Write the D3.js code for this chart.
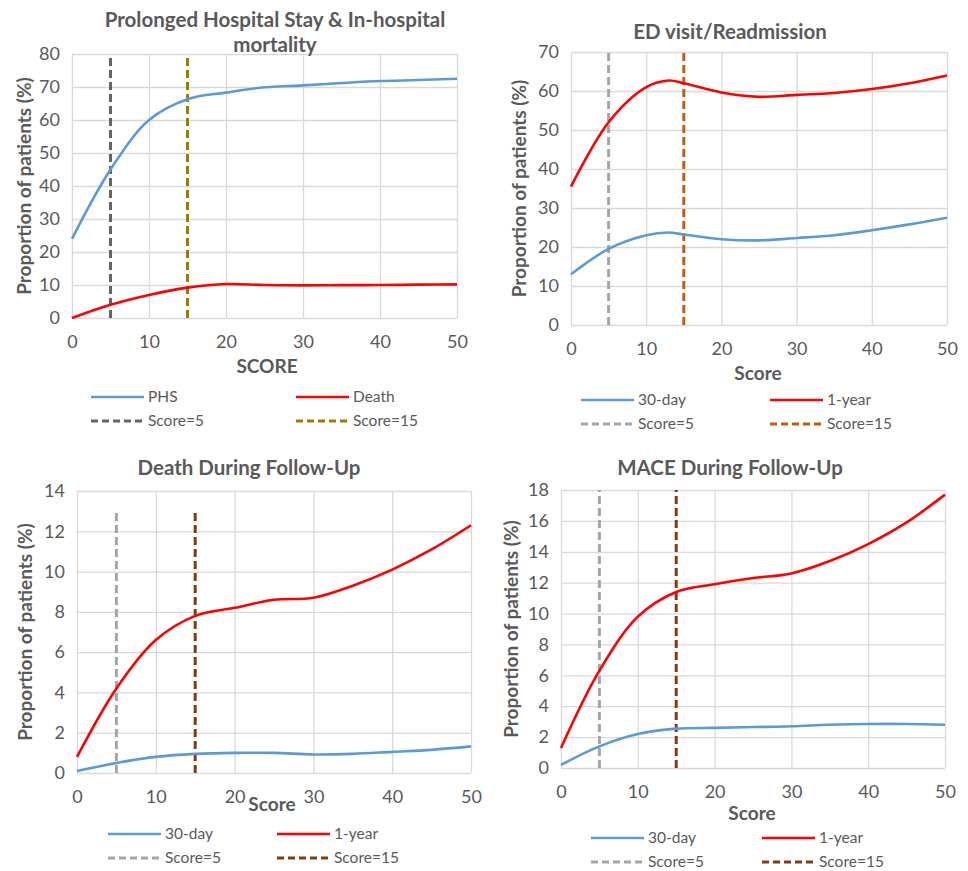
<!DOCTYPE html>
<html>
<head>
<meta charset="utf-8">
<script src="https://cdn.jsdelivr.net/npm/d3@7"></script>
<style>
  body { margin: 0; background: white; }
  text { font-family: Lato, "Open Sans", sans-serif; }
</style>
</head>
<body>
<div id="chart"></div>
<script>
// Data (score -> proportion %)
var scoreTicks = [0, 10, 20, 30, 40, 50]
var scores   = [0, 5, 10, 15, 20, 25, 30, 35, 40, 45, 50]
var edScores = [0, 5, 10, 13, 15, 20, 25, 30, 35, 40, 45, 50]

var phsValue    = [24, 45, 60, 66.3, 68.3, 69.9, 70.5, 71.2, 71.8, 72.1, 72.5]
var deathValue  = [0, 4, 7, 9.2, 10.3, 10, 9.9, 9.95, 10, 10.1, 10.2]

var ed30Value   = [13, 19.5, 23, 23.7, 23.2, 22, 21.7, 22.3, 23, 24.3, 25.8, 27.5]
var ed1yValue   = [35.5, 52, 61, 62.7, 62, 59.6, 58.5, 59, 59.5, 60.5, 62, 64]

var dfu30Value  = [0.1, 0.5, 0.8, 0.95, 1.0, 1.0, 0.92, 0.95, 1.05, 1.15, 1.32]
var dfu1yValue  = [0.8, 4.2, 6.6, 7.8, 8.2, 8.6, 8.7, 9.3, 10.1, 11.1, 12.3]

var mace30Value = [0.2, 1.4, 2.2, 2.55, 2.6, 2.65, 2.7, 2.8, 2.85, 2.85, 2.8]
var mace1yValue = [1.3, 6.3, 9.8, 11.4, 11.9, 12.3, 12.6, 13.4, 14.5, 15.9, 17.7]

var cutoffs = [5, 15]

// Panel layout (pixel boxes of each plot area)
var panels = [
  {title: ["Prolonged Hospital Stay & In-hospital", "mortality"], titleX: 275, titleY: 27,
   left: 72, right: 457, top: 54, bottom: 318, yMax: 80, yStep: 10, dashTop: 80,
   xLabel: "SCORE", xLabelX: 267, xLabelY: 373, yLabelX: 31,
   series: [
     {name: "PHS", x: scores, y: phsValue, color: "#5B9BD5"},
     {name: "Death", x: scores, y: deathValue, color: "#FF0000"}],
   dashColors: ["#646464", "#A07A00"],
   legendCols: [91, 296], legendY: 397},
  {title: ["ED visit/Readmission"], titleX: 730, titleY: 39,
   left: 571, right: 947, top: 52, bottom: 325, yMax: 70, yStep: 10, dashTop: 70,
   xLabel: "Score", xLabelX: 758, xLabelY: 380, yLabelX: 526,
   series: [
     {name: "30-day", x: edScores, y: ed30Value, color: "#5B9BD5"},
     {name: "1-year", x: edScores, y: ed1yValue, color: "#FF0000"}],
   dashColors: ["#A5A5A5", "#C55A11"],
   legendCols: [581, 770], legendY: 400},
  {title: ["Death During Follow-Up"], titleX: 249, titleY: 475,
   left: 77, right: 471, top: 491, bottom: 773, yMax: 14, yStep: 2, dashTop: 13,
   xLabel: "Score", xLabelX: 272, xLabelY: 811, yLabelX: 32,
   series: [
     {name: "30-day", x: scores, y: dfu30Value, color: "#5B9BD5"},
     {name: "1-year", x: scores, y: dfu1yValue, color: "#FF0000"}],
   dashColors: ["#A5A5A5", "#843C0C"],
   legendCols: [108, 277], legendY: 834},
  {title: ["MACE During Follow-Up"], titleX: 730, titleY: 475,
   left: 561, right: 945, top: 490, bottom: 768, yMax: 18, yStep: 2, dashTop: 18,
   xLabel: "Score", xLabelX: 752, xLabelY: 820, yLabelX: 518,
   series: [
     {name: "30-day", x: scores, y: mace30Value, color: "#5B9BD5"},
     {name: "1-year", x: scores, y: mace1yValue, color: "#FF0000"}],
   dashColors: ["#A5A5A5", "#843C0C"],
   legendCols: [591, 762], legendY: 838}
]

var svg = d3.select("#chart")
  .append("svg")
  .attr("width", 968)
  .attr("height", 871)
  .style("background-color", "white")

panels.forEach(function (p) {
  var x_scale = d3.scaleLinear().domain([0, 50]).range([p.left, p.right])
  var y_scale = d3.scaleLinear().domain([0, p.yMax]).range([p.bottom, p.top])
  var yTicks = d3.range(0, p.yMax + 0.001, p.yStep)

  var g = svg.append("g")

  // gridlines
  g.append("g")
    .attr("transform", "translate(0," + p.bottom + ")")
    .call(d3.axisBottom(x_scale).tickValues(scoreTicks).tickSize(-(p.bottom - p.top)).tickFormat(""))
    .call(function (s) { s.select(".domain").remove() })
    .selectAll("line").attr("stroke", "#D9D9D9").attr("stroke-width", 1.3)

  g.append("g")
    .attr("transform", "translate(" + p.left + ",0)")
    .call(d3.axisLeft(y_scale).tickValues(yTicks).tickSize(-(p.right - p.left)).tickFormat(""))
    .call(function (s) { s.select(".domain").remove() })
    .selectAll("line").attr("stroke", "#D9D9D9").attr("stroke-width", 1.3)

  // tick labels
  var xa = g.append("g")
    .attr("transform", "translate(0," + p.bottom + ")")
    .call(d3.axisBottom(x_scale).tickValues(scoreTicks).tickSize(0).tickPadding(17))
  xa.select(".domain").remove()
  xa.selectAll("text").style("font-size", "18px").attr("fill", "#595959")
    .style("font-family", "Lato, sans-serif")

  var ya = g.append("g")
    .attr("transform", "translate(" + p.left + ",0)")
    .call(d3.axisLeft(y_scale).tickValues(yTicks).tickSize(0).tickPadding(12))
  ya.select(".domain").remove()
  ya.selectAll("text").style("font-size", "18px").attr("fill", "#595959")
    .style("font-family", "Lato, sans-serif")

  // cut-off dashed lines
  cutoffs.forEach(function (c, i) {
    g.append("line")
      .attr("x1", x_scale(c)).attr("x2", x_scale(c))
      .attr("y1", y_scale(0)).attr("y2", y_scale(p.dashTop))
      .attr("stroke", p.dashColors[i])
      .attr("stroke-width", 3)
      .attr("stroke-dasharray", "8,4")
  })

  // series lines (smoothed like the spreadsheet curves)
  var line = d3.line()
    .x(function (d) { return x_scale(d[0]) })
    .y(function (d) { return y_scale(d[1]) })
    .curve(d3.curveCatmullRom.alpha(0.5))

  p.series.forEach(function (s) {
    g.append("path")
      .datum(s.x.map(function (v, i) { return [v, s.y[i]] }))
      .attr("d", line)
      .attr("fill", "none")
      .attr("stroke", s.color)
      .attr("stroke-width", 2.6)
  })

  // title
  var t = g.append("text")
    .attr("x", p.titleX)
    .attr("y", p.titleY)
    .attr("text-anchor", "middle")
    .style("font-size", "20.5px")
    .style("font-weight", "bold")
    .attr("fill", "#595959")
  p.title.forEach(function (line, i) {
    t.append("tspan").attr("x", p.titleX).attr("dy", i == 0 ? 0 : 25).text(line)
  })

  // axis labels
  g.append("text")
    .attr("x", p.xLabelX)
    .attr("y", p.xLabelY)
    .attr("text-anchor", "middle")
    .style("font-size", "19px")
    .style("font-weight", "bold")
    .attr("fill", "#595959")
    .text(p.xLabel)

  g.append("text")
    .attr("transform", "translate(" + p.yLabelX + "," + ((p.top + p.bottom) / 2) + ") rotate(-90)")
    .attr("text-anchor", "middle")
    .style("font-size", "19px")
    .style("font-weight", "bold")
    .attr("fill", "#595959")
    .text("Proportion of patients (%)")

  // legend
  var items = [
    {label: p.series[0].name, color: p.series[0].color, dash: null, col: 0, row: 0},
    {label: p.series[1].name, color: p.series[1].color, dash: null, col: 1, row: 0},
    {label: "Score=5", color: p.dashColors[0], dash: "7,4", col: 0, row: 1},
    {label: "Score=15", color: p.dashColors[1], dash: "7,4", col: 1, row: 1}
  ]
  items.forEach(function (d) {
    var lx = p.legendCols[d.col]
    var ly = p.legendY + d.row * 24
    g.append("line")
      .attr("x1", lx).attr("x2", lx + 53)
      .attr("y1", ly).attr("y2", ly)
      .attr("stroke", d.color)
      .attr("stroke-width", d.dash ? 3 : 2.6)
      .attr("stroke-dasharray", d.dash)
    g.append("text")
      .attr("x", lx + 57)
      .attr("y", ly)
      .attr("dy", "0.35em")
      .style("font-size", "15.5px")
      .attr("fill", "#595959")
      .text(d.label)
  })
})
</script>
</body>
</html>
